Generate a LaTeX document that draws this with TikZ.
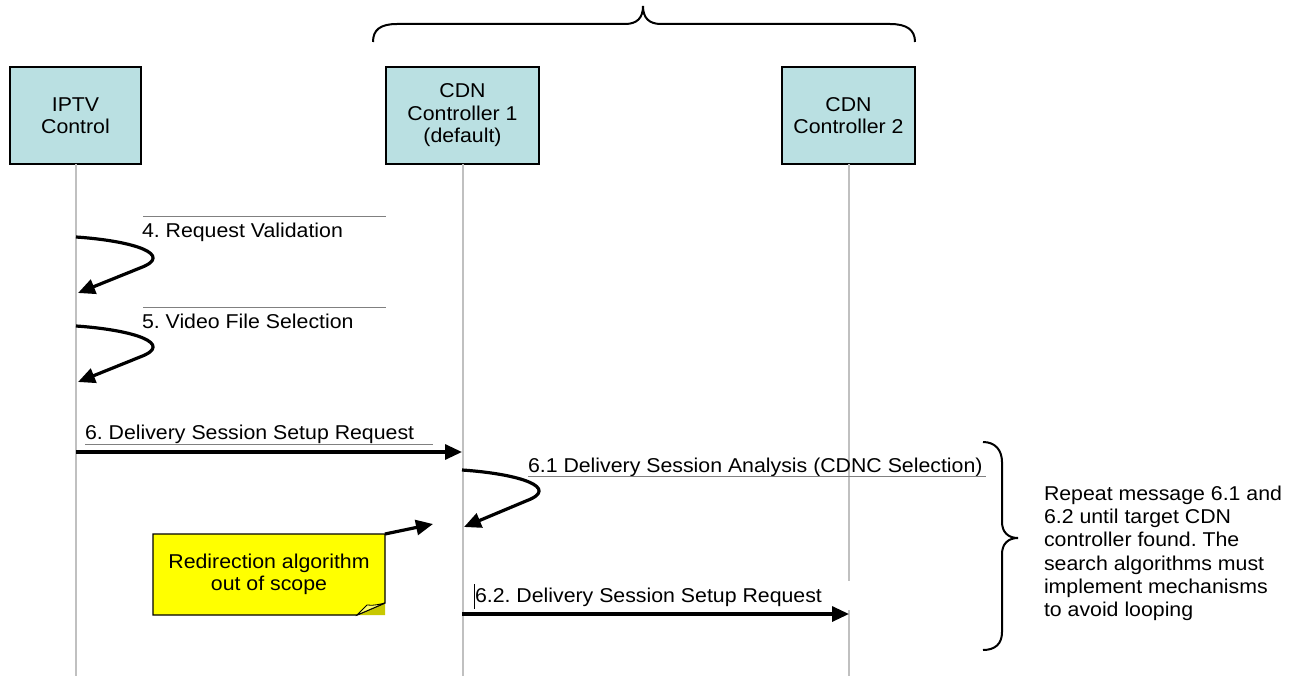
\documentclass[tikz,border=0pt]{standalone}
\usepackage{fontspec}
\setmainfont{Liberation Sans}[FakeStretch=1.065]
\usetikzlibrary{arrows.meta}
\definecolor{boxfill}{HTML}{BAE0E2}
\definecolor{lifegray}{HTML}{C0C0C0}
\definecolor{noteyellow}{HTML}{FFFF00}
\definecolor{notefold}{HTML}{C8C800}
\definecolor{rulegray}{HTML}{808080}
\frenchspacing
\begin{document}
\begin{tikzpicture}[x=1pt,y=-1pt,
  every node/.style={font=\fontsize{20}{22.5}\selectfont, inner sep=0pt, outer sep=0pt},
  actor/.style={draw=black, line width=1.5pt, fill=boxfill, align=center, minimum height=97pt},
  life/.style={draw=lifegray, line width=2pt},
  msg/.style={line width=3.2pt, -{Triangle[length=17pt,width=15pt]}},
  textrule/.style={draw=rulegray, line width=0.7pt},
  brace/.style={draw=black, line width=2pt},
  lbl/.style={anchor=base west}]
\useasboundingbox (0,0) rectangle (1297,676);
\coordinate (bottom) at (0,676);

% actors
\node[actor, minimum width=131pt] (iptv) at (75.5,115.5) {IPTV\\Control};
\node[actor, minimum width=153pt] (cdn1) at (462.5,115.5) {CDN\\Controller 1\\(default)};
\node[actor, minimum width=133pt] (cdn2) at (848.5,115.5) {CDN\\Controller 2};

% lifelines
\draw[life] (iptv.south) -- (iptv.south |- bottom);
\draw[life] (cdn1.south) -- (cdn1.south |- bottom);
\draw[life] (cdn2.south) -- (cdn2.south |- bottom);

% top brace
\draw[brace] (373,42) .. controls (373,30) and (380,24) .. (397,24) -- (625,24)
  .. controls (637,24) and (643,18) .. (643,6)
  .. controls (643,18) and (649,24) .. (661,24) -- (890,24)
  .. controls (907,24) and (915,30) .. (915,42);

% 4. Request Validation
\draw[textrule] (143,216) -- (386,216);
\node[lbl] (t4) at (142,238) {4. Request Validation};
\coordinate (l4s) at (76,237);
\coordinate (l4e) at (78,293);
\draw[msg] (l4s) .. controls (135,241) and (175,255) .. (140,268) -- (l4e);

% 5. Video File Selection
\draw[textrule] (143,307) -- (386,307);
\node[lbl] (t5) at (142,328) {5. Video File Selection};
\coordinate (l5s) at (76,326);
\coordinate (l5e) at (78,382);
\draw[msg] (l5s) .. controls (135,330) and (175,344) .. (140,357) -- (l5e);

% 6. Delivery Session Setup Request
\node[lbl] (t6) at (85,439) {6. Delivery Session Setup Request};
\draw[textrule] (85,444) -- (433,444);
\coordinate (m6s) at (76,452);
\coordinate (m6e) at (462,452);
\draw[msg] (m6s) -- (m6e);

% 6.1 Delivery Session Analysis
\node[lbl] (t61) at (528,472) {6.1 Delivery Session Analysis (CDNC Selection)};
\draw[textrule] (528,476) -- (986,476);
\coordinate (l61s) at (462,470);
\coordinate (l61e) at (464,527);
\draw[msg] (l61s) .. controls (521,474) and (561,488) .. (526,501) -- (l61e);

% note
\fill[notefold] (357,615) -- (385,603) -- (385,615) -- cycle;
\draw[black, line width=1.3pt, fill=noteyellow] (153,534) -- (385,534) -- (385,603)
  -- (357,615) -- (153,615) -- cycle;
\draw[black, line width=0.8pt, fill=noteyellow!60!white] (357,615) -- (367,605) .. controls (374,606) and (380,604) .. (385,603) -- cycle;
\node[minimum width=232pt, minimum height=81pt, align=center] (note) at (269,574.5)
  {Redirection algorithm\\out of scope};
\coordinate (noteTip) at (433,524);
\draw[msg] (note.north east) -- (noteTip);

% 6.2 Delivery Session Setup Request
\fill[white] (466,581) rectangle (852,610);
\draw[black, line width=0.6pt] (474,584) -- (474,609);
\node[lbl] (t62) at (475,602) {6.2. Delivery Session Setup Request};
\coordinate (m62s) at (462,614);
\coordinate (m62e) at (849,614);
\draw[msg] (m62s) -- (m62e);

% right brace
\draw[brace] (983,442) .. controls (995,442) and (1002,450) .. (1002,462) -- (1002,522)
  .. controls (1002,532) and (1008,538) .. (1018,538)
  .. controls (1008,538) and (1002,544) .. (1002,554) -- (1002,632)
  .. controls (1002,644) and (995,650) .. (983,650);

\node[anchor=north west, align=left, font=\fontsize{20}{23.2}\selectfont] (repeat) at (1044,486)
  {Repeat message 6.1 and\\6.2 until target CDN\\controller found. The\\search algorithms must\\implement mechanisms\\to avoid looping};
\end{tikzpicture}
\end{document}
